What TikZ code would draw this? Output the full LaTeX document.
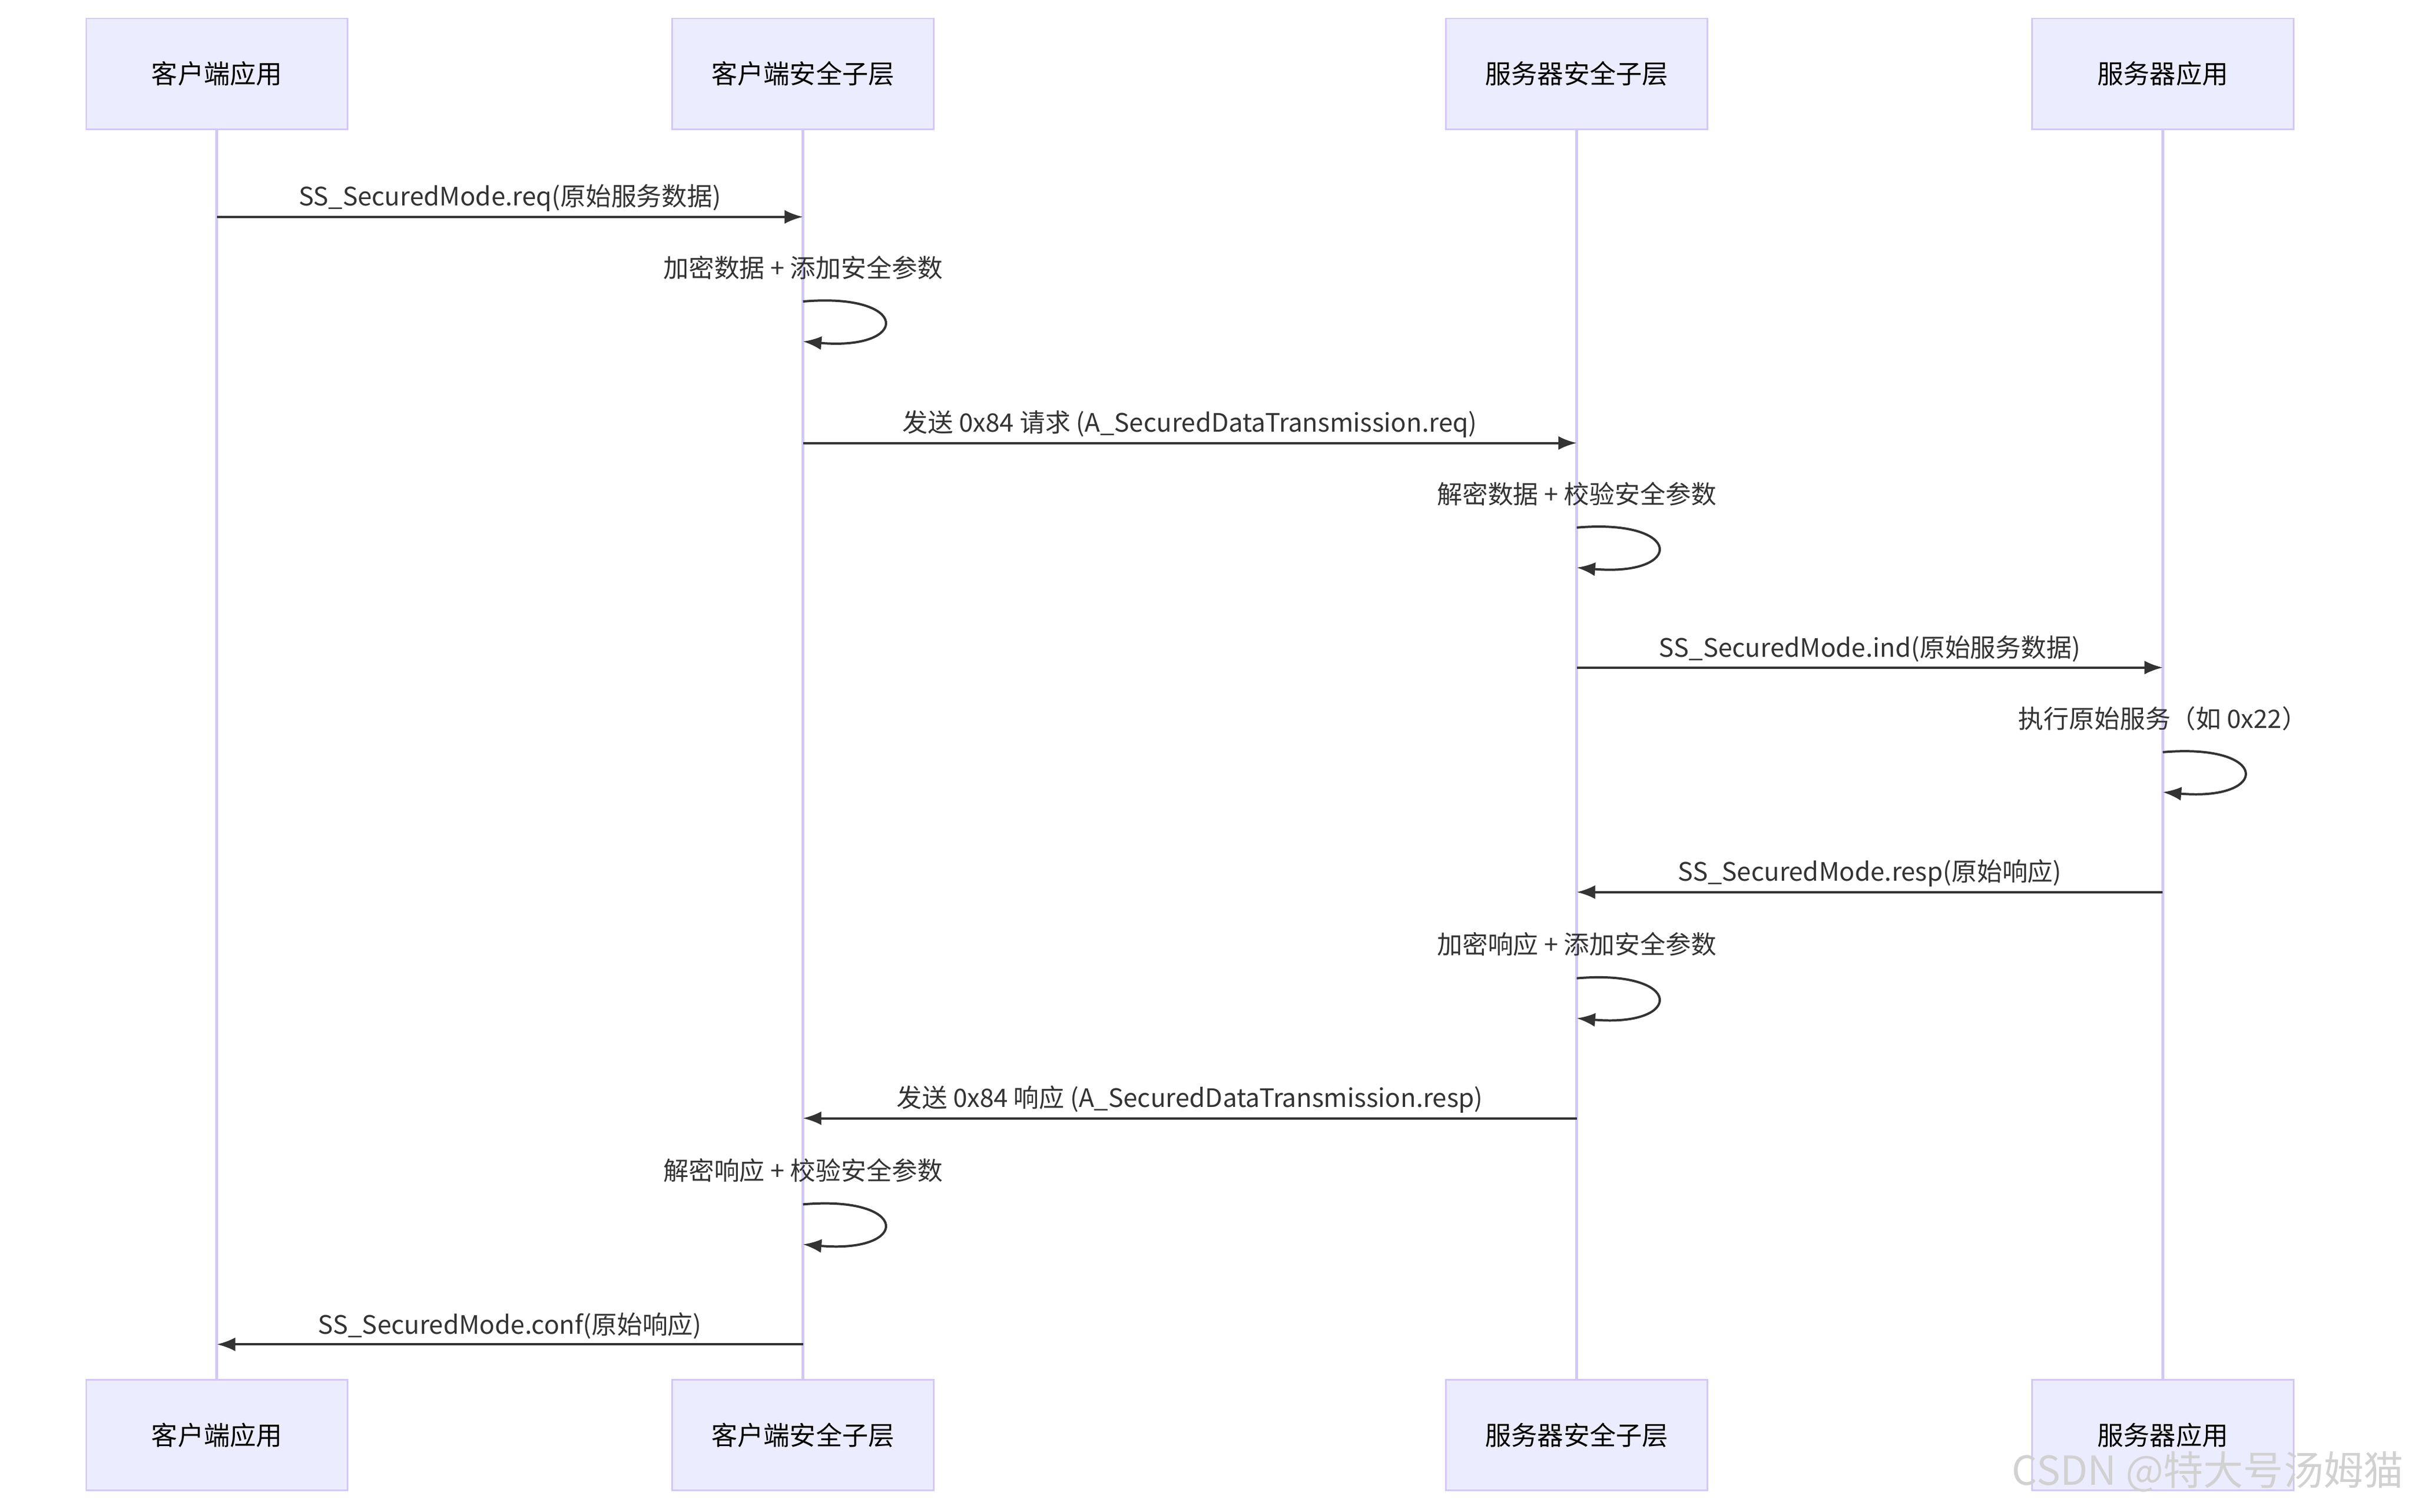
\documentclass[tikz,border=0pt]{standalone}
\usepackage{fontspec}
\setmainfont{Noto Sans CJK SC}
\usetikzlibrary{arrows.meta,calc}
\definecolor{actfill}{HTML}{ECECFF}
\definecolor{actline}{HTML}{D3C8F5}
\definecolor{msgcol}{HTML}{333333}
\begin{document}
\begin{tikzpicture}[x=1pt,y=-1pt,
    actor/.style={draw=actline,fill=actfill,line width=1pt,minimum width=170pt,minimum height=72pt,font=\fontsize{17}{20}\selectfont},
    life/.style={draw=actline,line width=2pt},
    msg/.style={draw=msgcol,line width=1.5pt,-{Latex[length=12pt,width=9pt]}},
    lbl/.style={font=\fontsize{16.5}{20}\selectfont,text=msgcol}
  ]
  \useasboundingbox (0,0) rectangle (1568,983);
  % lifelines
  \foreach \n/\x in {ca/141,cs/522,ss/1025,sa/1406}{
    \coordinate (\n top) at (\x,84);
    \coordinate (\n bot) at (\x,897);
    \draw[life] (\n top) -- (\n bot);
  }
  % actors
  \foreach \n/\x/\t in {ca/141/客户端应用,cs/522/客户端安全子层,ss/1025/服务器安全子层,sa/1406/服务器应用}{
    \node[actor] (\n head) at (\x,48) {\t};
    \node[actor] (\n foot) at (\x,933) {\t};
  }
  % messages
  \foreach \a/\b/\y/\t in {ca/cs/141/SS\_SecuredMode.req(原始服务数据),
      cs/ss/288/发送 0x84 请求 (A\_SecuredDataTransmission.req),
      ss/sa/434/SS\_SecuredMode.ind(原始服务数据),
      sa/ss/580/SS\_SecuredMode.resp(原始响应),
      ss/cs/727/发送 0x84 响应 (A\_SecuredDataTransmission.resp),
      cs/ca/874/SS\_SecuredMode.conf(原始响应)}{
    \coordinate (m1) at (\a top |- 0,\y);
    \coordinate (m2) at (\b top |- 0,\y);
    \draw[msg] (m1) -- (m2);
    \node[lbl,above] (ml) at ($(m1)!0.5!(m2)$) {\t};
  }
  % self calls
  \foreach \a/\y/\t in {cs/196/加密数据 + 添加安全参数,
      ss/343/解密数据 + 校验安全参数,
      sa/489/执行原始服务（如 0x22）,
      ss/636/加密响应 + 添加安全参数,
      cs/783/解密响应 + 校验安全参数}{
    \coordinate (s1) at (\a top |- 0,\y);
    \coordinate (s2) at (\a top |- 0,\y+26);
    \draw[msg] (s1) .. controls +(70,-6) and +(70,6) .. (s2);
    \node[lbl] (sl) at ($(s1)+(0,-22)$) {\t};
  }
  \node[font=\fontsize{26}{30}\selectfont,text=black!18,anchor=east] (mark) at (1566,957) {CSDN @特大号汤姆猫};
\end{tikzpicture}
\end{document}
